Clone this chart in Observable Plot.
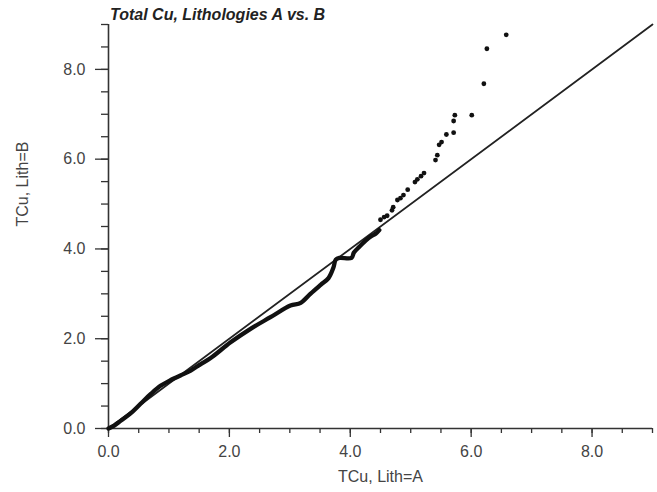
<!DOCTYPE html>
<html>
<head>
<meta charset="utf-8">
<script src="https://cdn.jsdelivr.net/npm/d3@7"></script>
<script src="https://cdn.jsdelivr.net/npm/@observablehq/plot@0.6"></script>
<style>
  body { margin: 0; background: #fff; }
  #wrap { position: relative; width: 657px; height: 492px; }
  #title { position: absolute; left: 110px; top: 6px; line-height: 1; font: italic bold 16px "Liberation Sans", Arial, sans-serif; color: #222; }
</style>
</head>
<body>
<div id="wrap"><div id="title">Total Cu, Lithologies A vs. B</div></div>
<script>
// Dense part of the Q-Q curve (Lith A quantile, Lith B quantile)
const denseA = [0, 0.1, 0.2, 0.36, 0.53, 0.70, 0.86, 1.03, 1.19, 1.36, 1.52, 1.69, 2.02, 2.35, 2.68, 3.01, 3.18, 3.34, 3.51, 3.64, 3.72, 3.76, 3.82, 4.02, 4.06, 4.15, 4.25, 4.34, 4.42, 4.48];
const denseB = [0, 0.07, 0.17, 0.33, 0.55, 0.77, 0.95, 1.08, 1.18, 1.29, 1.43, 1.57, 1.92, 2.22, 2.48, 2.74, 2.80, 3.00, 3.20, 3.35, 3.58, 3.76, 3.80, 3.80, 3.92, 4.05, 4.18, 4.28, 4.34, 4.42];
// Sparse upper tail (individual points)
const tailA = [4.50, 4.56, 4.61, 4.69, 4.71, 4.78, 4.83, 4.88, 4.95, 5.07, 5.11, 5.17, 5.22, 5.41, 5.44, 5.47, 5.51, 5.59, 5.71, 5.71, 5.73, 6.01, 6.21, 6.26, 6.58];
const tailB = [4.65, 4.71, 4.74, 4.86, 4.93, 5.09, 5.13, 5.20, 5.32, 5.49, 5.55, 5.62, 5.69, 5.98, 6.09, 6.32, 6.38, 6.55, 6.59, 6.85, 6.98, 6.98, 7.68, 8.46, 8.77];
// 1:1 reference line ends
const refLine = [0, 9];
const majorTicks = [0, 2, 4, 6, 8];
const minorTicks = d3.range(0, 9.001, 0.5);

const dense = denseA.map((a, i) => ({a, b: denseB[i]}));
const tail = tailA.map((a, i) => ({a, b: tailB[i]}));

const font = '"Liberation Sans", Arial, sans-serif';
const axisColor = "#333";
const textColor = "#444";

const chart = Plot.plot({
  width: 657,
  height: 492,
  marginLeft: 108,
  marginRight: 5,
  marginTop: 24,
  marginBottom: 64,
  style: {fontFamily: font, fontSize: "16px", color: textColor, background: "transparent"},
  x: {domain: [0, 9], label: null},
  y: {domain: [0, 9], label: null},
  marks: [
    Plot.axisX(minorTicks, {tickSize: 5, text: null, stroke: axisColor, strokeWidth: 1.3, label: null}),
    Plot.axisX(majorTicks, {tickSize: 9, tickPadding: 8, tickFormat: d3.format(".1f"), stroke: axisColor, strokeWidth: 1.3, fill: textColor, fontSize: 16, label: null}),
    Plot.axisY(minorTicks, {tickSize: 7, text: null, stroke: axisColor, strokeWidth: 1.3, label: null}),
    Plot.axisY(majorTicks, {tickSize: 13, tickPadding: 10, tickFormat: d3.format(".1f"), stroke: axisColor, strokeWidth: 1.3, fill: textColor, fontSize: 16, label: null}),
    Plot.ruleY([0], {stroke: axisColor, strokeWidth: 1.6}),
    Plot.ruleX([0], {stroke: axisColor, strokeWidth: 1.6}),
    Plot.text(["TCu, Lith=A"], {frameAnchor: "bottom", dy: 53, fill: textColor, fontSize: 16}),
    Plot.text(["TCu, Lith=B"], {frameAnchor: "left", dx: -86, rotate: -90, fill: textColor, fontSize: 16}),
    Plot.line(refLine, {x: d => d, y: d => d, stroke: "#222", strokeWidth: 1.8}),
    Plot.line(dense, {x: "a", y: "b", stroke: "#111", strokeWidth: 4.3, strokeLinejoin: "round", strokeLinecap: "round", curve: "catmull-rom"}),
    Plot.dot(tail, {x: "a", y: "b", r: 2.4, fill: "#111", stroke: "none"})
  ]
});
document.getElementById("wrap").appendChild(chart);
</script>
</body>
</html>
